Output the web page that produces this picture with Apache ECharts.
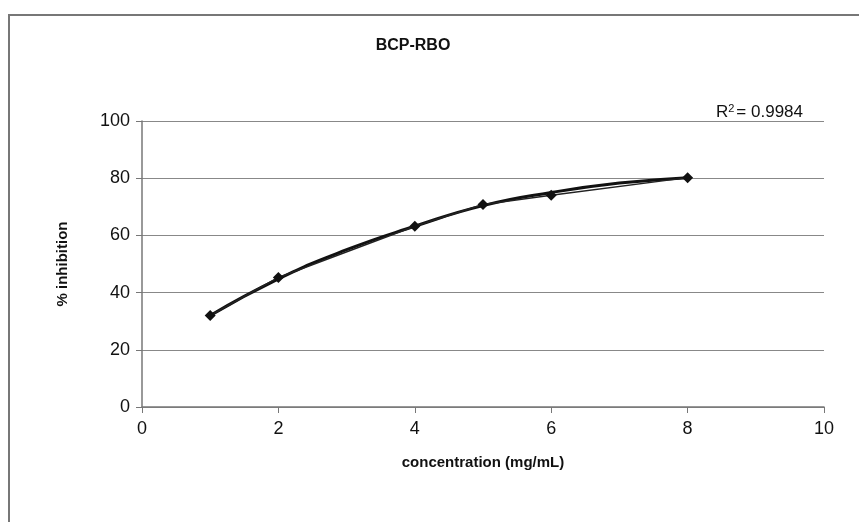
<!DOCTYPE html>
<html>
<head>
<meta charset="utf-8">
<script src="https://cdn.jsdelivr.net/npm/echarts@6/dist/echarts.min.js"></script>
<style>
html,body{margin:0;padding:0;background:#fff;}
#chart{width:859px;height:522px;}
</style>
</head>
<body>
<div id="chart"></div>
<script>
// Measured data
var concentration = [1, 2, 4, 5, 6, 8];
var inhibition = [32, 45.3, 63.2, 70.8, 74.0, 80.2];
// Trendline values
var trendX = [1, 2, 3, 4, 5, 6, 7, 8];
var trendY = [32, 44.8, 55, 63.2, 70.4, 75, 78.3, 80.2];
var xTicks = [0, 2, 4, 6, 8, 10];
var yTicks = [0, 20, 40, 60, 80, 100];
var titleText = 'BCP-RBO';
var r2Text = '0.9984';

var chart = echarts.init(document.getElementById('chart'));
var fontFam = '"Liberation Sans", Arial, sans-serif';
chart.setOption({
  animation: false,
  backgroundColor: '#fff',
  title: {
    text: titleText,
    left: 408, top: 33,
    textAlign: 'center',
    textStyle: {fontFamily: fontFam, fontSize: 16, fontWeight: 'bold', color: '#111'}
  },
  graphic: [
    {type: 'polyline', shape: {points: [[9, 522], [9, 15], [859, 15]]},
     style: {stroke: '#777', lineWidth: 2, fill: null}, silent: true},
    {type: 'text', right: 56, top: 103,
     style: {
       text: '{r|R}{s|2}{r|= ' + r2Text + '}',
       rich: {
         r: {fontFamily: fontFam, fontSize: 17, fill: '#111'},
         s: {fontFamily: fontFam, fontSize: 11, fill: '#111', verticalAlign: 'top', padding: [0, 2, 7, 0]}
       }
     }}
  ],
  grid: {left: 142, right: 35, top: 121, bottom: 115, containLabel: false},
  xAxis: {
    type: 'value', min: 0, max: 10, interval: 2,
    name: 'concentration (mg/mL)',
    nameLocation: 'middle', nameGap: 48,
    nameTextStyle: {fontFamily: fontFam, fontSize: 15, fontWeight: 'bold', color: '#111'},
    axisLine: {show: true, lineStyle: {color: '#777', width: 1.5}},
    axisTick: {show: true, inside: false, length: 6, lineStyle: {color: '#777'}},
    axisLabel: {fontFamily: fontFam, fontSize: 18, color: '#111', margin: 13,
      formatter: function(v){ return xTicks.indexOf(v) >= 0 ? String(v) : ''; }},
    splitLine: {show: false}
  },
  yAxis: {
    type: 'value', min: 0, max: 100, interval: 20,
    name: '% inhibition',
    nameLocation: 'middle', nameGap: 72,
    nameTextStyle: {fontFamily: fontFam, fontSize: 15, fontWeight: 'bold', color: '#111'},
    axisLine: {show: true, lineStyle: {color: '#777', width: 1.5}},
    axisTick: {show: true, inside: false, length: 6, lineStyle: {color: '#777'}},
    axisLabel: {fontFamily: fontFam, fontSize: 18, color: '#111', margin: 12,
      formatter: function(v){ return yTicks.indexOf(v) >= 0 ? String(v) : ''; }},
    splitLine: {show: true, lineStyle: {color: '#888', width: 1.2}}
  },
  series: [
    {
      type: 'line', name: 'data',
      data: concentration.map(function(x, i){ return [x, inhibition[i]]; }),
      symbol: 'diamond', symbolSize: 11,
      itemStyle: {color: '#111'},
      lineStyle: {color: '#222', width: 1.5},
      z: 3
    },
    {
      type: 'line', name: 'trend',
      data: trendX.map(function(x, i){ return [x, trendY[i]]; }),
      smooth: true, symbol: 'none',
      lineStyle: {color: '#111', width: 3},
      z: 2
    }
  ]
});
</script>
</body>
</html>
